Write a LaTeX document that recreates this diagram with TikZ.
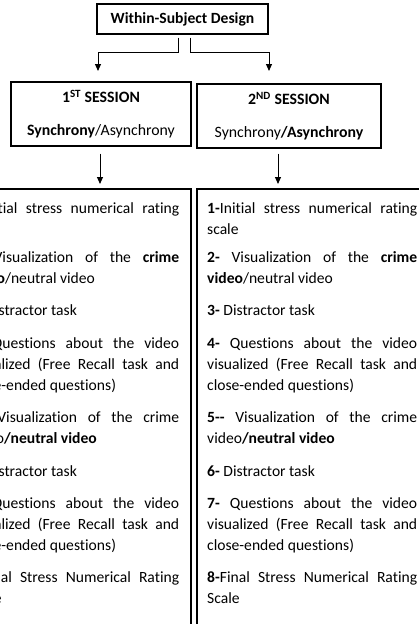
\documentclass[tikz,border=0pt]{standalone}
\usepackage{fontspec}
\setmainfont{Carlito}[Ligatures={TeX,NoCommon}]
\usetikzlibrary{arrows.meta}
\newcommand{\fl}[1]{\makebox[210pt][s]{#1}}
\newcommand{\itm}[1]{\parbox[t]{210pt}{\fontsize{15.6}{21}\selectfont #1}}
\begin{document}
\begin{tikzpicture}[x=1pt,y=-1pt,
  box/.style={draw, line width=1.1pt, inner sep=0pt},
  arr/.style={line width=1pt, -{Triangle[length=7pt,width=6pt]}},
  item/.style={anchor=base west, inner sep=0pt},
  sess/.style={box, align=center, font=\fontsize{15.8}{33}\selectfont},
]
\useasboundingbox (0,0) rectangle (419,624);
\clip (0,0) rectangle (419,624);

% top box
\node[box, minimum width=171pt, minimum height=30pt, font=\fontsize{15.6}{19}\selectfont\bfseries] (top) at (182.5,19) {Within-Subject Design};

% session boxes
\node[sess, minimum width=180pt, minimum height=64pt] (sess1) at (101,114)
  {\textbf{1\textsuperscript{ST} SESSION}\\\textbf{Synchrony}/Asynchrony};
\node[sess, minimum width=184pt, minimum height=64pt] (sess2) at (289,116)
  {\textbf{2\textsuperscript{ND} SESSION}\\Synchrony\textbf{/Asynchrony}};

% large boxes (cropped)
\node[box, minimum width=236pt, minimum height=531pt] (big1) at (73,454.5) {};
\node[box, minimum width=235pt, minimum height=531pt] (big2) at (314.5,454.5) {};

% connectors
\coordinate (t1) at (98,71);
\coordinate (t2) at (269,71);
\coordinate (b1) at (100,184);
\coordinate (b2) at (278,184);
\draw[arr] ([xshift=-4.5pt,yshift=-3pt]top.south) -- ++(0,15) -| (t1);
\draw[arr] ([xshift=7.5pt,yshift=-3pt]top.south) -- ++(0,15) -| (t2);
\draw[arr] ([xshift=-1pt,yshift=-7pt]sess1.south) -- (b1);
\draw[arr] ([xshift=-11pt,yshift=-5pt]sess2.south) -- (b2);

% left column items
\node[item] (l1) at (-31,213) {\itm{\fl{\textbf{1-}Initial stress numerical rating}\\scale}};
\node[item] (l2) at (-31,262) {\itm{\fl{\textbf{2-} Visualization of the \textbf{crime}}\\\textbf{video}/neutral video}};
\node[item] (l3) at (-31,315) {\itm{\textbf{3-} Distractor task}};
\node[item] (l4) at (-31,348) {\itm{\fl{\textbf{4-} Questions about the video}\\\fl{visualized (Free Recall task and}\\close-ended questions)}};
\node[item] (l5) at (-31,422) {\itm{\fl{\textbf{5-{}-} Visualization of the crime}\\video\textbf{/neutral video}}};
\node[item] (l6) at (-31,476) {\itm{\textbf{6-} Distractor task}};
\node[item] (l7) at (-31,508) {\itm{\fl{\textbf{7-} Questions about the video}\\\fl{visualized (Free Recall task and}\\close-ended questions)}};
\node[item] (l8) at (-31,582) {\itm{\fl{\textbf{8-}Final Stress Numerical Rating}\\Scale}};

% right column items
\node[item] (r1) at (207,213) {\itm{\fl{\textbf{1-}Initial stress numerical rating}\\scale}};
\node[item] (r2) at (207,262) {\itm{\fl{\textbf{2-} Visualization of the \textbf{crime}}\\\textbf{video}/neutral video}};
\node[item] (r3) at (207,315) {\itm{\textbf{3-} Distractor task}};
\node[item] (r4) at (207,348) {\itm{\fl{\textbf{4-} Questions about the video}\\\fl{visualized (Free Recall task and}\\close-ended questions)}};
\node[item] (r5) at (207,422) {\itm{\fl{\textbf{5-{}-} Visualization of the crime}\\video\textbf{/neutral video}}};
\node[item] (r6) at (207,476) {\itm{\textbf{6-} Distractor task}};
\node[item] (r7) at (207,508) {\itm{\fl{\textbf{7-} Questions about the video}\\\fl{visualized (Free Recall task and}\\close-ended questions)}};
\node[item] (r8) at (207,582) {\itm{\fl{\textbf{8-}Final Stress Numerical Rating}\\Scale}};
\end{tikzpicture}
\end{document}
